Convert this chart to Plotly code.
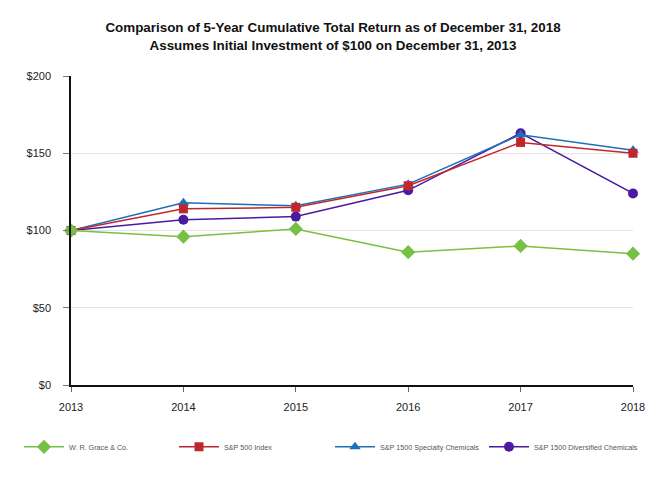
import plotly.graph_objects as go

years = [2013, 2014, 2015, 2016, 2017, 2018]
grace = [100, 96, 101, 86, 90, 85]
sp500 = [100, 114, 115, 129, 157, 150]
specialty = [100, 118, 116, 130, 162, 152]
diversified = [100, 107, 109, 126, 163, 124]

series = [
    ("W. R. Grace & Co.", grace, "#76C043", "diamond", 11),
    ("S&P 500 Index", sp500, "#C0272D", "square", 9),
    ("S&P 1500 Specialty Chemicals", specialty, "#1D6FB8", "triangle-up", 10),
    ("S&P 1500 Diversified Chemicals", diversified, "#4A1AA3", "circle", 10),
]
legend_ids = ["legend", "legend2", "legend3", "legend4"]
legend_px = [19, 174, 330, 484]

fig = go.Figure()
# draw in reverse so the first series sits on top, as in the reference
for (name, vals, color, sym, size), lid in list(zip(series, legend_ids))[::-1]:
    fig.add_trace(go.Scatter(
        x=years, y=vals, name=name, mode="lines+markers",
        line=dict(color=color, width=1.5),
        marker=dict(symbol=sym, size=size, color=color),
        cliponaxis=False, legend=lid,
    ))

plot_l, plot_w = 71, 562
legend_layout = {}
for lid, px in zip(legend_ids, legend_px):
    legend_layout[lid] = dict(
        orientation="h", x=(px - plot_l) / plot_w, y=-0.2,
        xanchor="left", yanchor="middle",
        font=dict(size=7.2, color="#555"), itemwidth=40,
        bgcolor="rgba(0,0,0,0)",
    )

fig.update_layout(
    width=666, height=480,
    margin=dict(l=71, r=33, t=76, b=95),
    paper_bgcolor="white", plot_bgcolor="white",
    font=dict(family="Liberation Sans, Arial, sans-serif", color="#222"),
    title=dict(
        text="<b>Comparison of 5-Year Cumulative Total Return as of December 31, 2018<br>Assumes Initial Investment of $100 on December 31, 2013</b>",
        x=0.5, xanchor="center", y=0.933, yanchor="top",
        font=dict(size=13.4, color="#111"),
    ),
    xaxis=dict(
        range=[2013, 2018], tickvals=years, ticktext=[str(y) for y in years],
        showgrid=False, showline=True, linecolor="#111", linewidth=1.5,
        ticks="outside", ticklen=5, tickcolor="#666", ticklabelstandoff=6,
        tickfont=dict(size=11, color="#222"), zeroline=False,
    ),
    yaxis=dict(
        range=[0, 200], tickvals=[0, 50, 100, 150, 200],
        ticktext=["$0", "$50", "$100", "$150", "$200"],
        showgrid=True, gridcolor="#e3e3e3", gridwidth=1,
        showline=True, linecolor="#111", linewidth=1.5,
        ticks="outside", ticklen=6, tickcolor="#777", ticklabelstandoff=10,
        tickfont=dict(size=11, color="#222"), zeroline=False,
    ),
    showlegend=True,
    **legend_layout,
)

fig.write_html("out.html", config={"displayModeBar": False},
               post_script="document.body.style.margin='0';")
